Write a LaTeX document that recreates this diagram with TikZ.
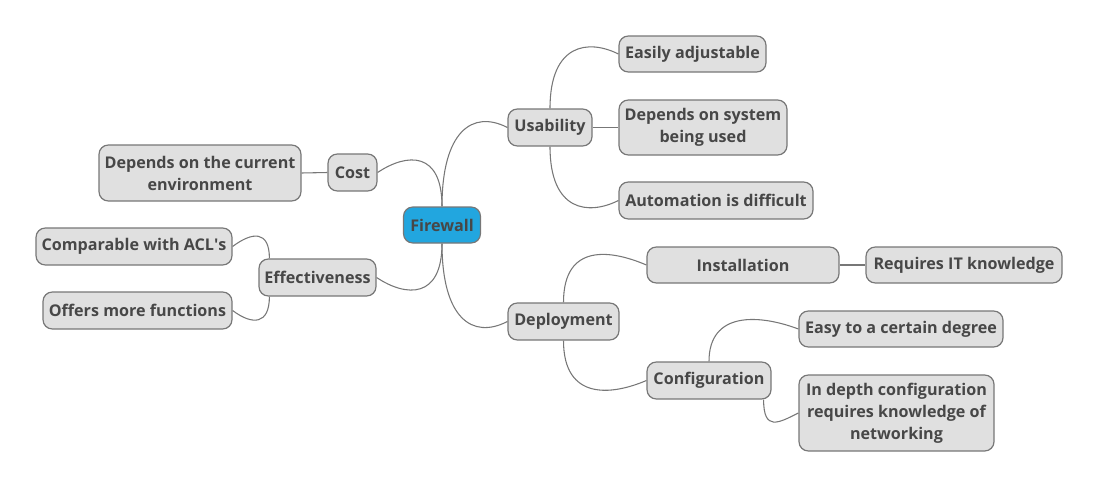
\documentclass[tikz,border=0pt]{standalone}
\usepackage{fontspec}
\setmainfont{Open Sans}
\usepackage{xcolor}
\usepackage{tikz}
\definecolor{boxgray}{HTML}{E0E0E0}
\definecolor{edgegray}{HTML}{777777}
\definecolor{textgray}{HTML}{474747}
\definecolor{fwblue}{HTML}{22A6DF}

\begin{document}
\begin{tikzpicture}[x=0.75pt,y=-0.75pt,
	topic/.style={draw=edgegray,line width=0.9pt,fill=boxgray,rounded corners=7pt,
		text=textgray,font=\fontsize{12.1}{16.5}\selectfont\bfseries,align=center,
		inner sep=0pt,minimum height=27.75pt},
	wd/.style={minimum width=#1*0.75pt},
	ht/.style={minimum height=#1*0.75pt},
	link/.style={draw=edgegray,line width=0.8pt}]
		\useasboundingbox (0,0) rectangle (1100,489);
		\node[topic,wd=77,ht=36,fill=fwblue] (fw) at (442,225) {Firewall};
		\node[topic,wd=49] (cost) at (352.5,172.5) {Cost};
		\node[topic,wd=202,ht=56] (curenv) at (200,173) {Depends on the current\\environment};
		\node[topic,wd=117] (eff) at (317.5,277.5) {Effectiveness};
		\node[topic,wd=196] (acl) at (134,246.5) {Comparable with ACL\textquotesingle s};
		\node[topic,wd=189] (func) at (137.5,310.5) {Offers more functions};
		\node[topic,wd=84] (use) at (550,127.5) {Usability};
		\node[topic,wd=147,ht=36] (adjust) at (692.5,54) {Easily adjustable};
		\node[topic,wd=168,ht=55] (sys) at (703,127.5) {Depends on system\\being used};
		\node[topic,wd=194] (auto) at (716,200.5) {Automation is difficult};
		\node[topic,wd=111] (dep) at (563.5,321.5) {Deployment};
		\node[topic,wd=192,ht=36] (inst) at (743,265) {Installation};
		\node[topic,wd=196,ht=36] (itk) at (964,265) {Requires IT knowledge};
		\node[topic,wd=124] (conf) at (709,380.5) {Configuration};
		\node[topic,wd=204,ht=36] (easy) at (901,329) {Easy to a certain degree};
		\node[topic,wd=195,ht=76] (depth) at (896.5,413) {In depth configuration\\requires knowledge of\\networking};
		\draw[link] (fw.north) .. controls +(0,-75) and +(-35,-18) .. (use.west);
		\draw[link] (fw.north) .. controls +(0,-55) and +(30,-20) .. (cost.east);
		\draw[link] (fw.south) .. controls +(0,55) and +(30,20) .. (eff.east);
		\draw[link] (fw.south) .. controls +(0,75) and +(-35,18) .. (dep.west);
		\draw[link] (use.north) .. controls +(0,-65) and +(-30,-15) .. (adjust.west);
		\draw[link] (use.east) -- (sys.west);
		\draw[link] (use.south) .. controls +(0,65) and +(-30,15) .. (auto.west);
		\draw[link] (cost.west) -- (curenv.east);
		\draw[link] ([xshift=11*0.75pt]eff.north west) .. controls +(0,-28) and +(20,-15) .. (acl.east);
		\draw[link] ([xshift=11*0.75pt]eff.south west) .. controls +(0,28) and +(20,15) .. (func.east);
		\draw[link] (dep.north) .. controls +(0,-60) and +(-35,-15) .. (inst.west);
		\draw[link] (dep.south) .. controls +(0,60) and +(-35,15) .. (conf.west);
		\draw[link] (inst.east) -- (itk.west);
		\draw[link] (conf.north) .. controls +(0,-50) and +(-40,-15) .. (easy.west);
		\draw[link] ([xshift=-8*0.75pt]conf.south east) .. controls +(0,32) and +(-20,10) .. (depth.west);
	\end{tikzpicture}
\end{document}
